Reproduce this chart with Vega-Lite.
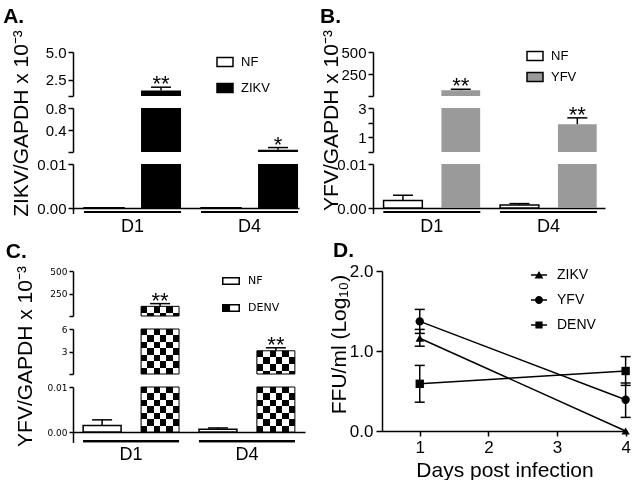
{
 "$schema": "https://vega.github.io/schema/vega-lite/v6.json",
 "background": "white",
 "padding": {"left": 3, "top": 6, "right": 0, "bottom": 0},
 "datasets": {
  "A": [
   {"Day": "D1", "Group": "NF", "mean": 0.00008, "hi": 0.00008, "sig": ""},
   {"Day": "D1", "Group": "ZIKV", "mean": 1.5, "hi": 1.8, "sig": "**"},
   {"Day": "D4", "Group": "NF", "mean": 0.00008, "hi": 0.00008, "sig": ""},
   {"Day": "D4", "Group": "ZIKV", "mean": 0.05, "hi": 0.09, "sig": "*"}
  ],
  "B": [
   {"Day": "D1", "Group": "NF", "mean": 0.0017, "hi": 0.0029, "sig": ""},
   {"Day": "D1", "Group": "YFV", "mean": 75, "hi": 85, "sig": "**"},
   {"Day": "D4", "Group": "NF", "mean": 0.0007, "hi": 0.001, "sig": ""},
   {"Day": "D4", "Group": "YFV", "mean": 1.9, "hi": 2.33, "sig": "**"}
  ],
  "C": [
   {"Day": "D1", "Group": "NF", "mean": 0.00145, "hi": 0.0027, "sig": ""},
   {"Day": "D1", "Group": "DENV", "mean": 115, "hi": 145, "sig": "**"},
   {"Day": "D4", "Group": "NF", "mean": 0.0006, "hi": 0.0009, "sig": ""},
   {"Day": "D4", "Group": "DENV", "mean": 3.1, "hi": 3.5, "sig": "**"}
  ],
  "D": [
   {"virus": "ZIKV", "day": 1, "mean": 1.16, "lo": 1.06, "hi": 1.27},
   {"virus": "ZIKV", "day": 4, "mean": 0, "lo": 0, "hi": 0},
   {"virus": "YFV", "day": 1, "mean": 1.37, "lo": 1.22, "hi": 1.52},
   {"virus": "YFV", "day": 4, "mean": 0.39, "lo": 0.17, "hi": 0.6},
   {"virus": "DENV", "day": 1, "mean": 0.59, "lo": 0.36, "hi": 0.82},
   {"virus": "DENV", "day": 4, "mean": 0.75, "lo": 0.57, "hi": 0.93}
  ]
 },
 "vconcat": [
  {
   "hconcat": [
    {
     "vconcat": [
      {
       "title": {"text": "A.", "anchor": "start", "fontSize": 21, "fontWeight": "bold", "dx": -42, "offset": 18},
       "width": 226, "height": 44,
       "data": {"name": "A"},
       "encoding": {
        "x": {"field": "Day", "type": "nominal", "axis": null, "scale": {"domain": ["D1", "D4"], "paddingInner": 0.171, "paddingOuter": 0.0513, "align": 0.92}},
        "y": {"field": "mean", "type": "quantitative", "scale": {"domain": [1, 5], "clamp": true, "nice": false, "zero": false}, "axis": {"values": [1, 2.5, 5], "labelExpr": "datum.value == 1 ? '' : format(datum.value, '.1f')", "title": null}}
       },
       "layer": [
        {"transform": [{"filter": "datum.Group == 'NF' && datum.mean > 1"}], "mark": {"type": "bar", "stroke": "black", "strokeWidth": 1.5},
         "encoding": {"xOffset": {"field": "Group", "type": "nominal", "scale": {"domain": ["NF", "ZIKV"], "paddingInner": 0.298, "paddingOuter": 0}}, "y2": {"datum": 0},
          "color": {"field": "Group", "type": "nominal", "scale": {"domain": ["NF", "ZIKV"], "range": ["white", "black"]},
           "legend": {"orient": "none", "legendX": 143, "legendY": 1, "title": null, "symbolType": "M-1,-0.55H1V0.55H-1Z", "symbolSize": 256, "labelFontSize": 13, "labelOffset": 7, "rowPadding": 9,
            "encode": {"symbols": {"stroke": {"value": "black"}, "strokeWidth": {"value": 1.5}}}}}}},
        {"transform": [{"filter": "datum.Group != 'NF' && datum.mean > 1"}], "mark": {"type": "bar", "color": "black"},
         "encoding": {"xOffset": {"field": "Group", "type": "nominal", "scale": {"domain": ["NF", "ZIKV"], "paddingInner": 0.298, "paddingOuter": 0}}, "y2": {"datum": 0}}},
        {"transform": [{"filter": "datum.hi > datum.mean && datum.mean > 1"}], "mark": {"type": "rule", "color": "black", "strokeWidth": 1.5},
         "encoding": {"xOffset": {"field": "Group", "type": "nominal", "scale": {"domain": ["NF", "ZIKV"], "paddingInner": 0.298, "paddingOuter": 0}}, "y2": {"field": "hi"}}},
        {"transform": [{"filter": "datum.hi > datum.mean && datum.mean > 1"}], "mark": {"type": "tick", "orient": "horizontal", "size": 20, "thickness": 1.5, "color": "black", "opacity": 1},
         "encoding": {"xOffset": {"field": "Group", "type": "nominal", "scale": {"domain": ["NF", "ZIKV"], "paddingInner": 0.298, "paddingOuter": 0}}, "y": {"field": "hi", "type": "quantitative"}}},
        {"transform": [{"filter": "datum.mean > 1"}], "mark": {"type": "text", "fontSize": 22, "dy": 4, "baseline": "alphabetic", "color": "black"},
         "encoding": {"xOffset": {"field": "Group", "type": "nominal", "scale": {"domain": ["NF", "ZIKV"], "paddingInner": 0.298, "paddingOuter": 0}}, "y": {"field": "hi", "type": "quantitative"}, "text": {"field": "sig"}}}
       ]
      },
      {
       "width": 226, "height": 44,
       "data": {"name": "A"},
       "encoding": {
        "x": {"field": "Day", "type": "nominal", "axis": null, "scale": {"domain": ["D1", "D4"], "paddingInner": 0.171, "paddingOuter": 0.0513, "align": 0.92}},
        "y": {"field": "mean", "type": "quantitative", "scale": {"domain": [0.01, 0.8], "clamp": true, "nice": false, "zero": false}, "axis": {"values": [0.01, 0.4, 0.8], "labelExpr": "datum.value < 0.1 ? '' : format(datum.value, '.1f')", "title": "ZIKV/GAPDH x 10⁻³", "titleFontSize": 21, "titleX": -42, "titleY": 15}}
       },
       "layer": [
        {"transform": [{"filter": "datum.Group == 'NF' && datum.mean > 0.01"}], "mark": {"type": "bar", "fill": "white", "stroke": "black", "strokeWidth": 1.5},
         "encoding": {"xOffset": {"field": "Group", "type": "nominal", "scale": {"domain": ["NF", "ZIKV"], "paddingInner": 0.298, "paddingOuter": 0}}, "y2": {"datum": 0}}},
        {"transform": [{"filter": "datum.Group != 'NF' && datum.mean > 0.01"}], "mark": {"type": "bar", "color": "black"},
         "encoding": {"xOffset": {"field": "Group", "type": "nominal", "scale": {"domain": ["NF", "ZIKV"], "paddingInner": 0.298, "paddingOuter": 0}}, "y2": {"datum": 0}}},
        {"transform": [{"filter": "datum.hi > datum.mean && datum.mean > 0.01 && datum.mean <= 1"}], "mark": {"type": "rule", "color": "black", "strokeWidth": 1.5},
         "encoding": {"xOffset": {"field": "Group", "type": "nominal", "scale": {"domain": ["NF", "ZIKV"], "paddingInner": 0.298, "paddingOuter": 0}}, "y2": {"field": "hi"}}},
        {"transform": [{"filter": "datum.hi > datum.mean && datum.mean > 0.01 && datum.mean <= 1"}], "mark": {"type": "tick", "orient": "horizontal", "size": 20, "thickness": 1.5, "color": "black", "opacity": 1},
         "encoding": {"xOffset": {"field": "Group", "type": "nominal", "scale": {"domain": ["NF", "ZIKV"], "paddingInner": 0.298, "paddingOuter": 0}}, "y": {"field": "hi", "type": "quantitative"}}},
        {"transform": [{"filter": "datum.mean > 0.01 && datum.mean <= 1"}], "mark": {"type": "text", "fontSize": 22, "dy": 4, "baseline": "alphabetic", "color": "black"},
         "encoding": {"xOffset": {"field": "Group", "type": "nominal", "scale": {"domain": ["NF", "ZIKV"], "paddingInner": 0.298, "paddingOuter": 0}}, "y": {"field": "hi", "type": "quantitative"}, "text": {"field": "sig"}}}
       ]
      },
      {
       "width": 226, "height": 49.5,
       "data": {"name": "A"},
       "encoding": {
        "x": {"field": "Day", "type": "nominal", "scale": {"domain": ["D1", "D4"], "paddingInner": 0.171, "paddingOuter": 0.0513, "align": 0.92}, "axis": {"title": null, "labelAngle": 0, "ticks": false, "offset": -5.5, "labelFontSize": 18, "labelPadding": 9}},
        "y": {"field": "mean", "type": "quantitative", "scale": {"domain": [-0.00125, 0.01], "clamp": true, "nice": false, "zero": false}, "axis": {"values": [0, 0.01], "format": ".2f", "title": null}}
       },
       "layer": [
        {"mark": {"type": "bar", "color": "black"}, "encoding": {"y": {"datum": -0.0007}, "y2": {"datum": -0.00115}}},
        {"transform": [{"filter": "datum.Group == 'NF'"}], "mark": {"type": "bar", "fill": "white", "stroke": "black", "strokeWidth": 1.5},
         "encoding": {"xOffset": {"field": "Group", "type": "nominal", "scale": {"domain": ["NF", "ZIKV"], "paddingInner": 0.298, "paddingOuter": 0}}, "y2": {"datum": 0}}},
        {"transform": [{"filter": "datum.Group != 'NF'"}], "mark": {"type": "bar", "color": "black"},
         "encoding": {"xOffset": {"field": "Group", "type": "nominal", "scale": {"domain": ["NF", "ZIKV"], "paddingInner": 0.298, "paddingOuter": 0}}, "y2": {"datum": 0}}},
        {"transform": [{"filter": "datum.hi > datum.mean && datum.mean <= 0.01"}], "mark": {"type": "rule", "color": "black", "strokeWidth": 1.5},
         "encoding": {"xOffset": {"field": "Group", "type": "nominal", "scale": {"domain": ["NF", "ZIKV"], "paddingInner": 0.298, "paddingOuter": 0}}, "y2": {"field": "hi"}}},
        {"transform": [{"filter": "datum.hi > datum.mean && datum.mean <= 0.01"}], "mark": {"type": "tick", "orient": "horizontal", "size": 20, "thickness": 1.5, "color": "black", "opacity": 1},
         "encoding": {"xOffset": {"field": "Group", "type": "nominal", "scale": {"domain": ["NF", "ZIKV"], "paddingInner": 0.298, "paddingOuter": 0}}, "y": {"field": "hi", "type": "quantitative"}}}
       ]
      }
     ],
     "spacing": 12,
     "bounds": "flush",
     "resolve": {"scale": {"x": "independent", "y": "independent", "xOffset": "independent", "color": "independent"}, "legend": {"color": "independent"}}
    },
    {
     "vconcat": [
      {
       "title": {"text": "B.", "anchor": "start", "fontSize": 21, "fontWeight": "bold", "dx": -21, "offset": 18},
       "width": 232, "height": 44,
       "data": {"name": "B"},
       "encoding": {
        "x": {"field": "Day", "type": "nominal", "axis": null, "scale": {"domain": ["D1", "D4"], "paddingInner": 0.171, "paddingOuter": 0.081, "align": 0.56}},
        "y": {"field": "mean", "type": "quantitative", "scale": {"domain": [10, 500], "clamp": true, "nice": false, "zero": false}, "axis": {"values": [10, 250, 500], "labelExpr": "datum.value == 10 ? '' : format(datum.value, 'd')", "title": null}}
       },
       "layer": [
        {"transform": [{"filter": "datum.Group == 'NF' && datum.mean > 10"}], "mark": {"type": "bar", "stroke": "black", "strokeWidth": 1.5},
         "encoding": {"xOffset": {"field": "Group", "type": "nominal", "scale": {"domain": ["NF", "YFV"], "paddingInner": 0.33, "paddingOuter": 0}}, "y2": {"datum": 0},
          "color": {"field": "Group", "type": "nominal", "scale": {"domain": ["NF", "YFV"], "range": ["white", "#9a9a9a"]},
           "legend": {"orient": "none", "legendX": 153, "legendY": -5, "title": null, "symbolType": "M-1,-0.55H1V0.55H-1Z", "symbolSize": 256, "labelFontSize": 13, "labelOffset": 7, "rowPadding": 4,
            "encode": {"symbols": {"stroke": {"condition": {"test": "datum.value == 'NF'", "value": "black"}, "value": "#9a9a9a"}, "strokeWidth": {"value": 1.5}}}}}}},
        {"transform": [{"filter": "datum.Group != 'NF' && datum.mean > 10"}], "mark": {"type": "bar", "color": "#9a9a9a"},
         "encoding": {"xOffset": {"field": "Group", "type": "nominal", "scale": {"domain": ["NF", "YFV"], "paddingInner": 0.33, "paddingOuter": 0}}, "y2": {"datum": 0}}},
        {"transform": [{"filter": "datum.hi > datum.mean && datum.mean > 10"}], "mark": {"type": "rule", "color": "black", "strokeWidth": 1.5},
         "encoding": {"xOffset": {"field": "Group", "type": "nominal", "scale": {"domain": ["NF", "YFV"], "paddingInner": 0.33, "paddingOuter": 0}}, "y2": {"field": "hi"}}},
        {"transform": [{"filter": "datum.hi > datum.mean && datum.mean > 10"}], "mark": {"type": "tick", "orient": "horizontal", "size": 20, "thickness": 1.5, "color": "black", "opacity": 1},
         "encoding": {"xOffset": {"field": "Group", "type": "nominal", "scale": {"domain": ["NF", "YFV"], "paddingInner": 0.33, "paddingOuter": 0}}, "y": {"field": "hi", "type": "quantitative"}}},
        {"transform": [{"filter": "datum.mean > 10"}], "mark": {"type": "text", "fontSize": 22, "dy": 4, "baseline": "alphabetic", "color": "black"},
         "encoding": {"xOffset": {"field": "Group", "type": "nominal", "scale": {"domain": ["NF", "YFV"], "paddingInner": 0.33, "paddingOuter": 0}}, "y": {"field": "hi", "type": "quantitative"}, "text": {"field": "sig"}}}
       ]
      },
      {
       "width": 232, "height": 44,
       "data": {"name": "B"},
       "encoding": {
        "x": {"field": "Day", "type": "nominal", "axis": null, "scale": {"domain": ["D1", "D4"], "paddingInner": 0.171, "paddingOuter": 0.081, "align": 0.56}},
        "y": {"field": "mean", "type": "quantitative", "scale": {"domain": [0.01, 3], "clamp": true, "nice": false, "zero": false}, "axis": {"values": [0.01, 1, 2, 3], "labelExpr": "datum.value < 0.5 ? '' : format(datum.value, 'd')", "title": "YFV/GAPDH x 10⁻³", "titleFontSize": 21, "titleX": -32, "titleY": 12}}
       },
       "layer": [
        {"transform": [{"filter": "datum.Group == 'NF' && datum.mean > 0.01"}], "mark": {"type": "bar", "fill": "white", "stroke": "black", "strokeWidth": 1.5},
         "encoding": {"xOffset": {"field": "Group", "type": "nominal", "scale": {"domain": ["NF", "YFV"], "paddingInner": 0.33, "paddingOuter": 0}}, "y2": {"datum": 0}}},
        {"transform": [{"filter": "datum.Group != 'NF' && datum.mean > 0.01"}], "mark": {"type": "bar", "color": "#9a9a9a"},
         "encoding": {"xOffset": {"field": "Group", "type": "nominal", "scale": {"domain": ["NF", "YFV"], "paddingInner": 0.33, "paddingOuter": 0}}, "y2": {"datum": 0}}},
        {"transform": [{"filter": "datum.hi > datum.mean && datum.mean > 0.01 && datum.mean <= 10"}], "mark": {"type": "rule", "color": "black", "strokeWidth": 1.5},
         "encoding": {"xOffset": {"field": "Group", "type": "nominal", "scale": {"domain": ["NF", "YFV"], "paddingInner": 0.33, "paddingOuter": 0}}, "y2": {"field": "hi"}}},
        {"transform": [{"filter": "datum.hi > datum.mean && datum.mean > 0.01 && datum.mean <= 10"}], "mark": {"type": "tick", "orient": "horizontal", "size": 20, "thickness": 1.5, "color": "black", "opacity": 1},
         "encoding": {"xOffset": {"field": "Group", "type": "nominal", "scale": {"domain": ["NF", "YFV"], "paddingInner": 0.33, "paddingOuter": 0}}, "y": {"field": "hi", "type": "quantitative"}}},
        {"transform": [{"filter": "datum.mean > 0.01 && datum.mean <= 10"}], "mark": {"type": "text", "fontSize": 22, "dy": 4, "baseline": "alphabetic", "color": "black"},
         "encoding": {"xOffset": {"field": "Group", "type": "nominal", "scale": {"domain": ["NF", "YFV"], "paddingInner": 0.33, "paddingOuter": 0}}, "y": {"field": "hi", "type": "quantitative"}, "text": {"field": "sig"}}}
       ]
      },
      {
       "width": 232, "height": 49.5,
       "data": {"name": "B"},
       "encoding": {
        "x": {"field": "Day", "type": "nominal", "scale": {"domain": ["D1", "D4"], "paddingInner": 0.171, "paddingOuter": 0.081, "align": 0.56}, "axis": {"title": null, "labelAngle": 0, "ticks": false, "offset": -5.5, "labelFontSize": 18, "labelPadding": 9}},
        "y": {"field": "mean", "type": "quantitative", "scale": {"domain": [-0.00125, 0.01], "clamp": true, "nice": false, "zero": false}, "axis": {"values": [0, 0.01], "format": ".2f", "title": null}}
       },
       "layer": [
        {"mark": {"type": "bar", "color": "black"}, "encoding": {"y": {"datum": -0.0007}, "y2": {"datum": -0.00115}}},
        {"transform": [{"filter": "datum.Group == 'NF'"}], "mark": {"type": "bar", "fill": "white", "stroke": "black", "strokeWidth": 1.5},
         "encoding": {"xOffset": {"field": "Group", "type": "nominal", "scale": {"domain": ["NF", "YFV"], "paddingInner": 0.33, "paddingOuter": 0}}, "y2": {"datum": 0}}},
        {"transform": [{"filter": "datum.Group != 'NF'"}], "mark": {"type": "bar", "color": "#9a9a9a"},
         "encoding": {"xOffset": {"field": "Group", "type": "nominal", "scale": {"domain": ["NF", "YFV"], "paddingInner": 0.33, "paddingOuter": 0}}, "y2": {"datum": 0}}},
        {"transform": [{"filter": "datum.hi > datum.mean && datum.mean <= 0.01"}], "mark": {"type": "rule", "color": "black", "strokeWidth": 1.5},
         "encoding": {"xOffset": {"field": "Group", "type": "nominal", "scale": {"domain": ["NF", "YFV"], "paddingInner": 0.33, "paddingOuter": 0}}, "y2": {"field": "hi"}}},
        {"transform": [{"filter": "datum.hi > datum.mean && datum.mean <= 0.01"}], "mark": {"type": "tick", "orient": "horizontal", "size": 20, "thickness": 1.5, "color": "black", "opacity": 1},
         "encoding": {"xOffset": {"field": "Group", "type": "nominal", "scale": {"domain": ["NF", "YFV"], "paddingInner": 0.33, "paddingOuter": 0}}, "y": {"field": "hi", "type": "quantitative"}}}
       ]
      }
     ],
     "spacing": 12,
     "bounds": "flush",
     "resolve": {"scale": {"x": "independent", "y": "independent", "xOffset": "independent", "color": "independent"}, "legend": {"color": "independent"}}
    }
   ],
   "spacing": 20,
   "resolve": {"scale": {"x": "independent", "y": "independent", "xOffset": "independent", "color": "independent"}, "legend": {"color": "independent"}}
  },
  {
   "hconcat": [
    {
     "vconcat": [
      {
       "title": {"text": "C.", "anchor": "start", "fontSize": 21, "fontWeight": "bold", "dx": -44, "offset": 5.5},
       "width": 232, "height": 45,
       "data": {"name": "C"},
       "encoding": {
        "x": {"field": "Day", "type": "nominal", "axis": null, "scale": {"domain": ["D1", "D4"], "paddingInner": 0.172, "paddingOuter": 0.0875, "align": 0.5}},
        "y": {"field": "mean", "type": "quantitative", "scale": {"domain": [10, 500], "clamp": true, "nice": false, "zero": false}, "axis": {"values": [10, 250, 500], "labelExpr": "datum.value == 10 ? '' : format(datum.value, 'd')", "title": null, "labelFont": "DejaVu Sans", "labelFontSize": 9, "tickSize": 4}}
       },
       "layer": [
        {"transform": [{"filter": "false"}], "mark": {"type": "point", "filled": true, "color": "black", "opacity": 1, "size": 324},
         "encoding": {"shape": {"field": "Group", "type": "nominal", "scale": {"domain": ["NF", "DENV"], "range": ["M-1,-0.44H1V0.44H-1Z M-0.83,-0.27V0.27H0.83V-0.27Z", "M-1,-0.44H1V0.44H-1Z M-0.83,-0.27V0.27H0.83V-0.27Z M-1,-0.44H-0.1V0.44H-1Z"]},
          "legend": {"orient": "none", "legendX": 149, "legendY": 1, "title": null, "symbolSize": 324, "labelFontSize": 11, "labelFont": "DejaVu Sans", "labelOffset": 8, "rowPadding": 13, "symbolFillColor": "black", "symbolStrokeWidth": 0}}}},
        {"transform": [{"filter": "datum.Group == 'NF' && datum.mean > 10"}], "mark": {"type": "bar", "fill": "white", "stroke": "black", "strokeWidth": 1.5},
         "encoding": {"xOffset": {"field": "Group", "type": "nominal", "scale": {"domain": ["NF", "DENV"], "paddingInner": 0.345, "paddingOuter": 0}}, "y2": {"datum": 0}}},
        {"transform": [{"filter": "datum.Group == 'DENV' && datum.mean > 10"}],
         "mark": {"type": "bar", "fill": {"gradient": "linear", "x1": 0, "y1": 0, "x2": 1, "y2": 0, "stops": [{"offset": 0, "color": "black"}, {"offset": 0.1667, "color": "black"}, {"offset": 0.1667, "color": "white"}, {"offset": 0.3333, "color": "white"}, {"offset": 0.3333, "color": "black"}, {"offset": 0.5, "color": "black"}, {"offset": 0.5, "color": "white"}, {"offset": 0.6667, "color": "white"}, {"offset": 0.6667, "color": "black"}, {"offset": 0.8333, "color": "black"}, {"offset": 0.8333, "color": "white"}, {"offset": 1, "color": "white"}]}},
         "encoding": {"xOffset": {"field": "Group", "type": "nominal", "scale": {"domain": ["NF", "DENV"], "paddingInner": 0.345, "paddingOuter": 0}}, "y2": {"datum": 0}}},
        {"transform": [{"filter": "datum.Group == 'DENV' && datum.mean > 10"}],
         "mark": {"type": "bar", "blend": "difference", "fill": {"gradient": "linear", "x1": 0, "y1": 0, "x2": 0, "y2": 1, "stops": [{"offset": 0, "color": "black"}, {"offset": 0.6667, "color": "black"}, {"offset": 0.6667, "color": "white"}, {"offset": 1, "color": "white"}]}},
         "encoding": {"xOffset": {"field": "Group", "type": "nominal", "scale": {"domain": ["NF", "DENV"], "paddingInner": 0.345, "paddingOuter": 0}}, "y2": {"datum": 0}}},
        {"transform": [{"filter": "datum.Group == 'DENV' && datum.mean > 10"}], "mark": {"type": "bar", "filled": false, "color": "black", "strokeWidth": 1},
         "encoding": {"xOffset": {"field": "Group", "type": "nominal", "scale": {"domain": ["NF", "DENV"], "paddingInner": 0.345, "paddingOuter": 0}}, "y2": {"datum": 0}}},
        {"transform": [{"filter": "datum.hi > datum.mean && datum.mean > 10"}], "mark": {"type": "rule", "color": "black", "strokeWidth": 1.5},
         "encoding": {"xOffset": {"field": "Group", "type": "nominal", "scale": {"domain": ["NF", "DENV"], "paddingInner": 0.345, "paddingOuter": 0}}, "y2": {"field": "hi"}}},
        {"transform": [{"filter": "datum.hi > datum.mean && datum.mean > 10"}], "mark": {"type": "tick", "orient": "horizontal", "size": 20, "thickness": 1.5, "color": "black", "opacity": 1},
         "encoding": {"xOffset": {"field": "Group", "type": "nominal", "scale": {"domain": ["NF", "DENV"], "paddingInner": 0.345, "paddingOuter": 0}}, "y": {"field": "hi", "type": "quantitative"}}},
        {"transform": [{"filter": "datum.mean > 10"}], "mark": {"type": "text", "fontSize": 22, "dy": 4, "baseline": "alphabetic", "color": "black"},
         "encoding": {"xOffset": {"field": "Group", "type": "nominal", "scale": {"domain": ["NF", "DENV"], "paddingInner": 0.345, "paddingOuter": 0}}, "y": {"field": "hi", "type": "quantitative"}, "text": {"field": "sig"}}}
       ]
      },
      {
       "width": 232, "height": 45,
       "data": {"name": "C"},
       "encoding": {
        "x": {"field": "Day", "type": "nominal", "axis": null, "scale": {"domain": ["D1", "D4"], "paddingInner": 0.172, "paddingOuter": 0.0875, "align": 0.5}},
        "y": {"field": "mean", "type": "quantitative", "scale": {"domain": [0.01, 6], "clamp": true, "nice": false, "zero": false}, "axis": {"values": [0.01, 3, 6], "labelExpr": "datum.value < 0.5 ? '' : format(datum.value, 'd')", "title": "YFV/GAPDH x 10⁻³", "titleFontSize": 21, "titleX": -38, "titleY": 27, "labelFont": "DejaVu Sans", "labelFontSize": 9, "tickSize": 4}}
       },
       "layer": [
        {"transform": [{"filter": "datum.Group == 'NF' && datum.mean > 0.01"}], "mark": {"type": "bar", "fill": "white", "stroke": "black", "strokeWidth": 1.5},
         "encoding": {"xOffset": {"field": "Group", "type": "nominal", "scale": {"domain": ["NF", "DENV"], "paddingInner": 0.345, "paddingOuter": 0}}, "y2": {"datum": 0}}},
        {"transform": [{"filter": "datum.Group == 'DENV' && datum.mean > 0.01"}],
         "mark": {"type": "bar", "fill": {"gradient": "linear", "x1": 0, "y1": 0, "x2": 1, "y2": 0, "stops": [{"offset": 0, "color": "black"}, {"offset": 0.1667, "color": "black"}, {"offset": 0.1667, "color": "white"}, {"offset": 0.3333, "color": "white"}, {"offset": 0.3333, "color": "black"}, {"offset": 0.5, "color": "black"}, {"offset": 0.5, "color": "white"}, {"offset": 0.6667, "color": "white"}, {"offset": 0.6667, "color": "black"}, {"offset": 0.8333, "color": "black"}, {"offset": 0.8333, "color": "white"}, {"offset": 1, "color": "white"}]}},
         "encoding": {"xOffset": {"field": "Group", "type": "nominal", "scale": {"domain": ["NF", "DENV"], "paddingInner": 0.345, "paddingOuter": 0}}, "y2": {"datum": 0}}},
        {"transform": [{"filter": "datum.Group == 'DENV' && datum.Day == 'D1' && datum.mean > 0.01"}],
         "mark": {"type": "bar", "blend": "difference", "fill": {"gradient": "linear", "x1": 0, "y1": 0, "x2": 0, "y2": 1, "stops": [{"offset": 0, "color": "black"}, {"offset": 0.1429, "color": "black"}, {"offset": 0.1429, "color": "white"}, {"offset": 0.2857, "color": "white"}, {"offset": 0.2857, "color": "black"}, {"offset": 0.4286, "color": "black"}, {"offset": 0.4286, "color": "white"}, {"offset": 0.5714, "color": "white"}, {"offset": 0.5714, "color": "black"}, {"offset": 0.7143, "color": "black"}, {"offset": 0.7143, "color": "white"}, {"offset": 0.8571, "color": "white"}, {"offset": 0.8571, "color": "black"}, {"offset": 1, "color": "black"}]}},
         "encoding": {"xOffset": {"field": "Group", "type": "nominal", "scale": {"domain": ["NF", "DENV"], "paddingInner": 0.345, "paddingOuter": 0}}, "y2": {"datum": 0}}},
        {"transform": [{"filter": "datum.Group == 'DENV' && datum.Day == 'D4' && datum.mean > 0.01"}],
         "mark": {"type": "bar", "blend": "difference", "fill": {"gradient": "linear", "x1": 0, "y1": 0, "x2": 0, "y2": 1, "stops": [{"offset": 0, "color": "black"}, {"offset": 0.2857, "color": "black"}, {"offset": 0.2857, "color": "white"}, {"offset": 0.5714, "color": "white"}, {"offset": 0.5714, "color": "black"}, {"offset": 0.8571, "color": "black"}, {"offset": 0.8571, "color": "white"}, {"offset": 1, "color": "white"}]}},
         "encoding": {"xOffset": {"field": "Group", "type": "nominal", "scale": {"domain": ["NF", "DENV"], "paddingInner": 0.345, "paddingOuter": 0}}, "y2": {"datum": 0}}},
        {"transform": [{"filter": "datum.Group == 'DENV' && datum.mean > 0.01"}], "mark": {"type": "bar", "filled": false, "color": "black", "strokeWidth": 1},
         "encoding": {"xOffset": {"field": "Group", "type": "nominal", "scale": {"domain": ["NF", "DENV"], "paddingInner": 0.345, "paddingOuter": 0}}, "y2": {"datum": 0}}},
        {"transform": [{"filter": "datum.hi > datum.mean && datum.mean > 0.01 && datum.mean <= 10"}], "mark": {"type": "rule", "color": "black", "strokeWidth": 1.5},
         "encoding": {"xOffset": {"field": "Group", "type": "nominal", "scale": {"domain": ["NF", "DENV"], "paddingInner": 0.345, "paddingOuter": 0}}, "y2": {"field": "hi"}}},
        {"transform": [{"filter": "datum.hi > datum.mean && datum.mean > 0.01 && datum.mean <= 10"}], "mark": {"type": "tick", "orient": "horizontal", "size": 20, "thickness": 1.5, "color": "black", "opacity": 1},
         "encoding": {"xOffset": {"field": "Group", "type": "nominal", "scale": {"domain": ["NF", "DENV"], "paddingInner": 0.345, "paddingOuter": 0}}, "y": {"field": "hi", "type": "quantitative"}}},
        {"transform": [{"filter": "datum.mean > 0.01 && datum.mean <= 10"}], "mark": {"type": "text", "fontSize": 22, "dy": 4, "baseline": "alphabetic", "color": "black"},
         "encoding": {"xOffset": {"field": "Group", "type": "nominal", "scale": {"domain": ["NF", "DENV"], "paddingInner": 0.345, "paddingOuter": 0}}, "y": {"field": "hi", "type": "quantitative"}, "text": {"field": "sig"}}}
       ]
      },
      {
       "width": 232, "height": 55.35,
       "data": {"name": "C"},
       "encoding": {
        "x": {"field": "Day", "type": "nominal", "scale": {"domain": ["D1", "D4"], "paddingInner": 0.172, "paddingOuter": 0.0875, "align": 0.5}, "axis": {"title": null, "labelAngle": 0, "ticks": false, "offset": -10.35, "labelFontSize": 18, "labelPadding": 13}},
        "y": {"field": "mean", "type": "quantitative", "scale": {"domain": [-0.0023, 0.01], "clamp": true, "nice": false, "zero": false}, "axis": {"values": [0, 0.01], "format": ".2f", "title": null, "labelFont": "DejaVu Sans", "labelFontSize": 9, "tickSize": 4}}
       },
       "layer": [
        {"mark": {"type": "bar", "color": "black"}, "encoding": {"y": {"datum": -0.0018}, "y2": {"datum": -0.00225}}},
        {"transform": [{"filter": "datum.Group == 'NF'"}], "mark": {"type": "bar", "fill": "white", "stroke": "black", "strokeWidth": 1.5},
         "encoding": {"xOffset": {"field": "Group", "type": "nominal", "scale": {"domain": ["NF", "DENV"], "paddingInner": 0.345, "paddingOuter": 0}}, "y2": {"datum": 0}}},
        {"transform": [{"filter": "datum.Group == 'DENV'"}],
         "mark": {"type": "bar", "fill": {"gradient": "linear", "x1": 0, "y1": 0, "x2": 1, "y2": 0, "stops": [{"offset": 0, "color": "black"}, {"offset": 0.1667, "color": "black"}, {"offset": 0.1667, "color": "white"}, {"offset": 0.3333, "color": "white"}, {"offset": 0.3333, "color": "black"}, {"offset": 0.5, "color": "black"}, {"offset": 0.5, "color": "white"}, {"offset": 0.6667, "color": "white"}, {"offset": 0.6667, "color": "black"}, {"offset": 0.8333, "color": "black"}, {"offset": 0.8333, "color": "white"}, {"offset": 1, "color": "white"}]}},
         "encoding": {"xOffset": {"field": "Group", "type": "nominal", "scale": {"domain": ["NF", "DENV"], "paddingInner": 0.345, "paddingOuter": 0}}, "y2": {"datum": 0}}},
        {"transform": [{"filter": "datum.Group == 'DENV'"}],
         "mark": {"type": "bar", "blend": "difference", "fill": {"gradient": "linear", "x1": 0, "y1": 0, "x2": 0, "y2": 1, "stops": [{"offset": 0, "color": "black"}, {"offset": 0.1429, "color": "black"}, {"offset": 0.1429, "color": "white"}, {"offset": 0.2857, "color": "white"}, {"offset": 0.2857, "color": "black"}, {"offset": 0.4286, "color": "black"}, {"offset": 0.4286, "color": "white"}, {"offset": 0.5714, "color": "white"}, {"offset": 0.5714, "color": "black"}, {"offset": 0.7143, "color": "black"}, {"offset": 0.7143, "color": "white"}, {"offset": 0.8571, "color": "white"}, {"offset": 0.8571, "color": "black"}, {"offset": 1, "color": "black"}]}},
         "encoding": {"xOffset": {"field": "Group", "type": "nominal", "scale": {"domain": ["NF", "DENV"], "paddingInner": 0.345, "paddingOuter": 0}}, "y2": {"datum": 0}}},
        {"transform": [{"filter": "datum.Group == 'DENV'"}], "mark": {"type": "bar", "filled": false, "color": "black", "strokeWidth": 1},
         "encoding": {"xOffset": {"field": "Group", "type": "nominal", "scale": {"domain": ["NF", "DENV"], "paddingInner": 0.345, "paddingOuter": 0}}, "y2": {"datum": 0}}},
        {"transform": [{"filter": "datum.hi > datum.mean && datum.mean <= 0.01"}], "mark": {"type": "rule", "color": "black", "strokeWidth": 1.5},
         "encoding": {"xOffset": {"field": "Group", "type": "nominal", "scale": {"domain": ["NF", "DENV"], "paddingInner": 0.345, "paddingOuter": 0}}, "y2": {"field": "hi"}}},
        {"transform": [{"filter": "datum.hi > datum.mean && datum.mean <= 0.01"}], "mark": {"type": "tick", "orient": "horizontal", "size": 20, "thickness": 1.5, "color": "black", "opacity": 1},
         "encoding": {"xOffset": {"field": "Group", "type": "nominal", "scale": {"domain": ["NF", "DENV"], "paddingInner": 0.345, "paddingOuter": 0}}, "y": {"field": "hi", "type": "quantitative"}}}
       ]
      }
     ],
     "spacing": 13,
     "bounds": "flush",
     "resolve": {"scale": {"x": "independent", "y": "independent", "xOffset": "independent", "color": "independent", "shape": "independent"}, "legend": {"color": "independent", "shape": "independent"}}
    },
    {
     "title": {"text": "D.", "anchor": "start", "fontSize": 21, "fontWeight": "bold", "dx": 5, "offset": 1},
     "width": 245, "height": 160,
     "data": {"name": "D"},
     "encoding": {
      "x": {"field": "day", "type": "quantitative", "scale": {"domain": [0.45, 4.02], "nice": false, "zero": false},
       "axis": {"values": [1, 2, 3, 4], "format": "d", "title": "Days post infection", "titleFontSize": 21, "labelFontSize": 17, "tickSize": 5, "labelPadding": 3, "titlePadding": 4}}
     },
     "layer": [
      {"mark": {"type": "line", "color": "black", "strokeWidth": 1.5},
       "encoding": {"y": {"field": "mean", "type": "quantitative", "scale": {"domain": [0, 2], "nice": false},
        "axis": {"values": [0, 0.25, 0.5, 0.75, 1, 1.25, 1.5, 1.75, 2], "labelExpr": "datum.value % 0.5 == 0 ? format(datum.value, '.1f') : ''", "tickSize": {"condition": {"test": "datum.value % 0.5 != 0", "value": 3}, "value": 6}, "title": "FFU/ml (Log₁₀)", "titleFontSize": 21, "labelFontSize": 17, "labelPadding": 3, "titleX": -33, "titleY": 73}},
        "detail": {"field": "virus"}}},
      {"transform": [{"filter": "datum.hi > datum.lo"}], "mark": {"type": "rule", "color": "black", "strokeWidth": 1.5},
       "encoding": {"y": {"field": "lo", "type": "quantitative"}, "y2": {"field": "hi"}}},
      {"transform": [{"filter": "datum.hi > datum.lo"}], "mark": {"type": "tick", "orient": "horizontal", "size": 10, "thickness": 1.5, "color": "black", "opacity": 1},
       "encoding": {"y": {"field": "hi", "type": "quantitative"}}},
      {"transform": [{"filter": "datum.hi > datum.lo"}], "mark": {"type": "tick", "orient": "horizontal", "size": 10, "thickness": 1.5, "color": "black", "opacity": 1},
       "encoding": {"y": {"field": "lo", "type": "quantitative"}}},
      {"mark": {"type": "point", "filled": true, "color": "black", "opacity": 1, "size": 70},
       "encoding": {"y": {"field": "mean", "type": "quantitative"},
        "shape": {"field": "virus", "type": "nominal", "scale": {"domain": ["ZIKV", "YFV", "DENV"], "range": ["triangle-up", "circle", "square"]}, "legend": null}}},
      {"transform": [{"filter": "false"}], "mark": {"type": "point", "filled": true, "color": "black", "opacity": 1, "size": 256},
       "encoding": {"y": {"field": "mean", "type": "quantitative"},
        "shape": {"field": "virus", "type": "nominal", "scale": {"domain": ["ZIKV", "YFV", "DENV"], "range": ["M-1,-0.09H1V0.09H-1Z M0,-0.5L0.55,0.45L-0.55,0.45Z", "M-1,-0.09H1V0.09H-1Z M-0.5,0A0.5,0.5,0,1,1,0.5,0A0.5,0.5,0,1,1,-0.5,0Z", "M-1,-0.09H1V0.09H-1Z M-0.45,-0.45H0.45V0.45H-0.45Z"]},
         "legend": {"orient": "none", "legendX": 149, "legendY": -4, "title": null, "labelFontSize": 14, "labelOffset": 10, "rowPadding": 10, "symbolSize": 256, "symbolFillColor": "black", "symbolStrokeWidth": 0}}}}
     ],
     "resolve": {"scale": {"shape": "independent"}, "legend": {"shape": "independent"}}
    }
   ],
   "spacing": 22,
   "resolve": {"scale": {"x": "independent", "y": "independent", "xOffset": "independent", "color": "independent", "shape": "independent"}, "legend": {"color": "independent", "shape": "independent"}}
  }
 ],
 "spacing": 5,
 "resolve": {"scale": {"x": "independent", "y": "independent", "xOffset": "independent", "color": "independent", "shape": "independent"}, "legend": {"color": "independent", "shape": "independent"}},
 "config": {
  "font": "Liberation Sans",
  "view": {"stroke": null},
  "axis": {"domainColor": "black", "domainWidth": 1.5, "tickColor": "black", "tickWidth": 1.5, "tickSize": 5, "labelColor": "black", "labelFontSize": 15, "labelPadding": 2, "titleColor": "black", "titleFontWeight": "normal", "grid": false, "labelFont": "Liberation Sans", "titleFont": "Liberation Sans"},
  "legend": {"labelColor": "black", "labelFont": "Liberation Sans"},
  "title": {"color": "black", "font": "Liberation Sans"}
 }
}
